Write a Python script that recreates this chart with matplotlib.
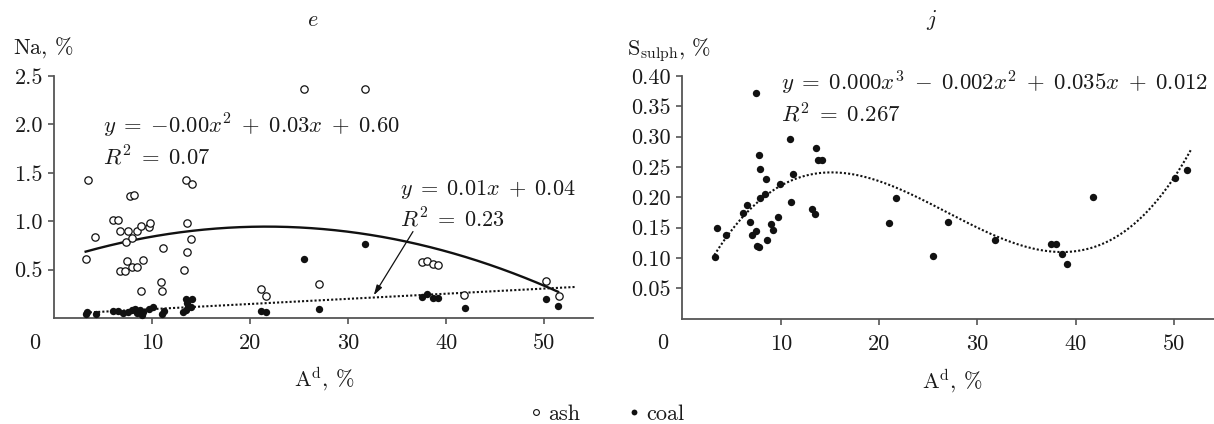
import numpy as np
import matplotlib
matplotlib.use("Agg")
import matplotlib.pyplot as plt
from matplotlib.lines import Line2D

plt.rcParams['mathtext.fontset'] = 'cm'
plt.rcParams['axes.formatter.use_mathtext'] = True

# ---------------- data ----------------
ash_x = [3.4, 25.5, 31.7, 7.7, 8.1, 13.4, 14.0, 6.0, 6.5, 4.2, 6.7, 7.5, 8.4, 8.8, 9.7, 9.8,
         7.3, 7.9, 13.5, 13.9, 11.1, 13.5, 3.2, 7.4, 7.9, 8.4, 9.1, 6.75, 7.2, 13.2, 10.9,
         10.95, 8.8, 21.1, 21.6, 27.0, 37.5, 38.0, 38.6, 39.2, 41.8, 50.2, 51.5]
ash_na = [1.43, 2.37, 2.37, 1.26, 1.27, 1.43, 1.38, 1.01, 1.01, 0.84, 0.90, 0.90, 0.90, 0.955, 0.94, 0.98,
          0.79, 0.825, 0.98, 0.82, 0.72, 0.68, 0.61, 0.59, 0.53, 0.53, 0.60, 0.49, 0.49, 0.50, 0.376,
          0.283, 0.283, 0.297, 0.23, 0.35, 0.583, 0.593, 0.562, 0.549, 0.235, 0.386, 0.231]

coal_x = [3.2, 3.35, 4.3, 6.0, 6.5, 7.0, 7.5, 7.9, 8.2, 8.4, 8.7, 8.9, 9.0, 9.7, 10.1, 11.0,
          11.2, 13.1, 13.4, 13.6, 13.9, 13.4, 14.1, 13.5, 21.1, 21.6, 25.5, 31.7, 27.0, 37.5,
          38.0, 38.6, 39.2, 41.9, 50.2, 51.4]
coal_na = [0.04, 0.06, 0.04, 0.07, 0.07, 0.05, 0.065, 0.08, 0.09, 0.05, 0.08, 0.03, 0.065, 0.09, 0.11, 0.04,
           0.075, 0.065, 0.08, 0.11, 0.11, 0.20, 0.20, 0.15, 0.07, 0.06, 0.61, 0.763, 0.093, 0.217,
           0.245, 0.21, 0.21, 0.104, 0.197, 0.121]

s_x = [3.3, 3.5, 4.4, 6.2, 6.6, 6.9, 7.05, 7.45, 7.55, 7.8, 7.5, 7.8, 7.9, 7.9, 8.4, 8.5, 8.6,
       9.0, 9.2, 9.7, 9.9, 10.9, 11.05, 11.3, 13.2, 13.5, 13.6, 13.8, 14.2, 21.05, 21.7, 25.5,
       27.05, 31.8, 37.5, 38.0, 38.6, 39.1, 41.8, 50.1, 51.3]
s_y = [0.102, 0.149, 0.138, 0.174, 0.187, 0.159, 0.138, 0.144, 0.120, 0.118, 0.372, 0.270, 0.247,
       0.198, 0.205, 0.230, 0.130, 0.156, 0.146, 0.167, 0.222, 0.296, 0.192, 0.238, 0.180, 0.172,
       0.281, 0.262, 0.262, 0.157, 0.199, 0.103, 0.160, 0.129, 0.123, 0.123, 0.107, 0.090, 0.200,
       0.232, 0.245]

# trend-line coefficients (highest power first) and their x-ranges
ash_fit = [-0.00076, 0.0329, 0.588]
ash_fit_range = [3.2, 51.4]
coal_fit = [0.0053, 0.039]
coal_fit_range = [3.2, 53.1]
s_fit = [2.035e-5, -0.0016425, 0.03579, 0.00502]
s_fit_range = [3.25, 51.8]

x_ticks = [10, 20, 30, 40, 50]
x_tick_labels = ['10', '20', '30', '40', '50']
na_ticks = [0.5, 1.0, 1.5, 2.0, 2.5]
na_tick_labels = ['0.5', '1.0', '1.5', '2.0', '2.5']
s_ticks = [0.05, 0.10, 0.15, 0.20, 0.25, 0.30, 0.35, 0.40]
s_tick_labels = ['0.05', '0.10', '0.15', '0.20', '0.25', '0.30', '0.35', '0.40']

eq_ash = [r'$y\;=\;{-}0.00x^2\;+\;0.03x\;+\;0.60$', r'$R^2\;=\;0.07$']
eq_coal = [r'$y\;=\;0.01x\;+\;0.04$', r'$R^2\;=\;0.23$']
eq_s = [r'$y\;=\;0.000x^3\;-\;0.002x^2\;+\;0.035x\;+\;0.012$', r'$R^2\;=\;0.267$']

# ---------------- figure ----------------
W, H = 1214, 424
fig = plt.figure(figsize=(W / 100, H / 100), dpi=100)
axL = fig.add_axes([54.3 / W, (H - 318) / H, (593.3 - 54.3) / W, (318 - 76) / H])
axR = fig.add_axes([682.4 / W, (H - 318.5) / H, (W - 682.4) / W, (318.5 - 76) / H])

FS = 16
TXT = '#1a1a1a'
SPINE = '#555555'
tickfont = {'family': 'cmr10', 'size': FS}

for ax in (axL, axR):
    for side in ('top', 'right'):
        ax.spines[side].set_visible(False)
    for side in ('left', 'bottom'):
        ax.spines[side].set_color(SPINE)
        ax.spines[side].set_linewidth(1.3)
    ax.tick_params(axis='both', direction='out', length=4.2, width=1.2, color=SPINE,
                   labelcolor=TXT)
    ax.tick_params(axis='x', pad=7)
    ax.tick_params(axis='y', pad=4)
    ax.set_xticks(x_ticks)
    ax.set_xticklabels(x_tick_labels, fontdict=tickfont)
    ax.annotate('0', xy=(0, 0), xycoords='data', xytext=(-19.5, -25), textcoords='offset pixels',
                ha='center', va='center', fontfamily='cmr10', fontsize=FS, color=TXT,
                annotation_clip=False)

# left panel
axL.set_xlim(0, 55)
axL.set_ylim(0, 2.5)
axL.set_yticks(na_ticks)
axL.set_yticklabels(na_tick_labels, fontdict=tickfont)

xa = np.linspace(ash_fit_range[0], ash_fit_range[1], 200)
axL.plot(xa, np.polyval(ash_fit, xa), color='#111111', lw=1.7, zorder=2)
xc = np.linspace(coal_fit_range[0], coal_fit_range[1], 200)
axL.plot(xc, np.polyval(coal_fit, xc), color='#111111', lw=1.5, ls=(0, (1, 1)), zorder=2)

axL.scatter(ash_x, ash_na, s=28, facecolors='white', edgecolors='#111111', linewidths=0.9,
            zorder=3, clip_on=False)
axL.scatter(coal_x, coal_na, s=28, color='#111111', linewidths=0, zorder=4, clip_on=False)

axL.text(5.0, 1.98, eq_ash[0], fontsize=16.3, color=TXT, ha='left', va='center')
axL.text(5.0, 1.653, eq_ash[1], fontsize=16.3, color=TXT, ha='left', va='center')
axL.text(35.3, 1.328, eq_coal[0], fontsize=FS, color=TXT, ha='left', va='center')
axL.text(35.3, 1.027, eq_coal[1], fontsize=FS, color=TXT, ha='left', va='center')
axL.annotate('', xy=(32.6, 0.235), xytext=(36.6, 0.893),
             arrowprops=dict(arrowstyle='-|>,head_length=0.6,head_width=0.18', color='#111111',
                             lw=0.9, shrinkA=0, shrinkB=0))

# right panel
axR.set_xlim(0, (W - 682.4) / 9.83)
axR.set_ylim(0, 0.40)
axR.set_yticks(s_ticks)
axR.set_yticklabels(s_tick_labels, fontdict=tickfont)

xs = np.linspace(s_fit_range[0], s_fit_range[1], 200)
axR.plot(xs, np.polyval(s_fit, xs), color='#111111', lw=1.5, ls=(0, (1, 1)), zorder=2)
axR.scatter(s_x, s_y, s=28, color='#111111', linewidths=0, zorder=4, clip_on=False)
axR.text(10.0, 0.389, eq_s[0], fontsize=16.4, color=TXT, ha='left', va='center')
axR.text(10.0, 0.336, eq_s[1], fontsize=16.4, color=TXT, ha='left', va='center')

# titles and axis captions
fig.text(313 / W, 1 - 20 / H, r'$e$', fontsize=FS, color=TXT, ha='center', va='center')
fig.text(932 / W, 1 - 20 / H, r'$j$', fontsize=FS, color=TXT, ha='center', va='center')
fig.text(12.7 / W, 1 - 54 / H, r'$\mathrm{Na},\,\%$', fontsize=FS, color=TXT, ha='left',
         va='baseline')
fig.text(627 / W, 1 - 55 / H, r'$\mathrm{S}_{\mathrm{sulph}},\,\%$', fontsize=FS, color=TXT,
         ha='left', va='baseline')
fig.text(324.4 / W, 1 - 387 / H, r'$\mathrm{A}^{\mathrm{d}},\,\%$', fontsize=FS, color=TXT,
         ha='center', va='baseline')
fig.text(952.5 / W, 1 - 389 / H, r'$\mathrm{A}^{\mathrm{d}},\,\%$', fontsize=FS, color=TXT,
         ha='center', va='baseline')

# legend
h_ash = Line2D([], [], ls='none', marker='o', markersize=4.2, markerfacecolor='white',
               markeredgecolor='#111111', markeredgewidth=0.8)
h_coal = Line2D([], [], ls='none', marker='o', markersize=4.2, markerfacecolor='#111111',
                markeredgecolor='#111111', markeredgewidth=0)
fig.legend(handles=[h_ash, h_coal], labels=['ash', 'coal'], loc='center',
           bbox_to_anchor=(607 / W, 1 - 414 / H), ncol=2, frameon=False,
           prop={'family': 'cmr10', 'size': FS}, handlelength=0.6, handletextpad=0.25,
           columnspacing=2.1, borderpad=0, borderaxespad=0, labelcolor=TXT)

fig.savefig('out.png', dpi=100)
